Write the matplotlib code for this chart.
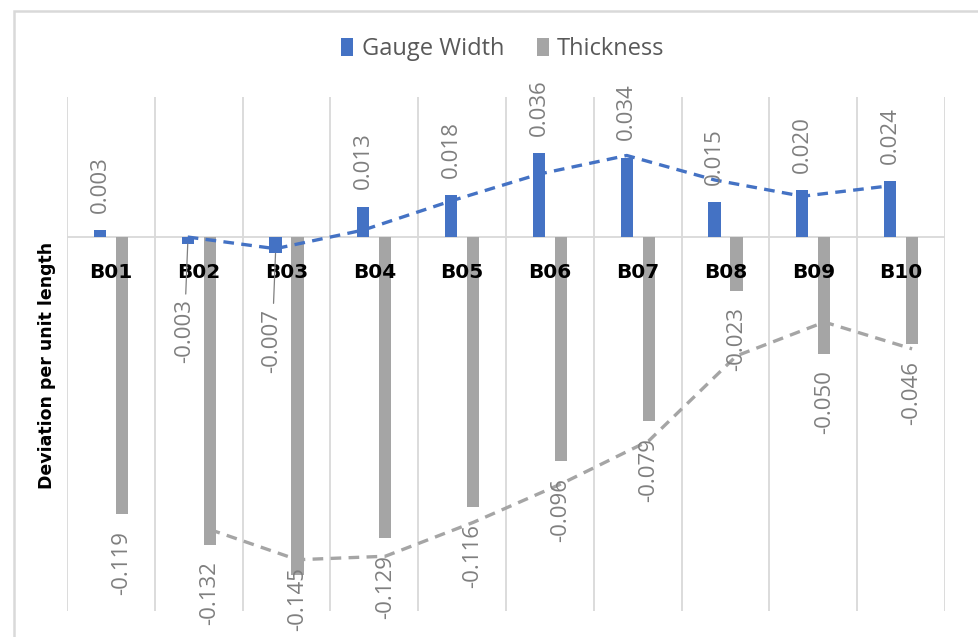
import numpy as np
import pandas as pd
import matplotlib
matplotlib.use("Agg")
from matplotlib import pyplot as plt
from matplotlib.patches import Rectangle

# data
specimens = ["B01", "B02", "B03", "B04", "B05", "B06", "B07", "B08", "B09", "B10"]
gauge_width = [0.003, -0.003, -0.007, 0.013, 0.018, 0.036, 0.034, 0.015, 0.020, 0.024]
thickness = [-0.119, -0.132, -0.145, -0.129, -0.116, -0.096, -0.079, -0.023, -0.050, -0.046]

blue = "#4472C4"
grey = "#A5A5A5"
label_col = "#7F7F7F"
grid_col = "#D9D9D9"

W, H = 979, 637
fig = plt.figure(figsize=(W / 100, H / 100), dpi=100)
ax = fig.add_axes([67 / W, 1 - 611 / H, (945 - 67) / W, (611 - 97) / H])
ax.set_axisbelow(False)

x = np.arange(len(specimens))
off = 0.125
bw = 0.14
ax.bar(x - off, gauge_width, bw, color=blue, label="Gauge Width", zorder=1)
ax.bar(x + off, thickness, bw, color=grey, label="Thickness", zorder=1)

# 2-period moving average trendlines (like Excel)
gw_ma = pd.Series(gauge_width).rolling(2).mean()
th_ma = pd.Series(thickness).rolling(2).mean()
ax.plot(x - off, gw_ma, color=blue, lw=2.4, ls=(0, (3.2, 2.2)), zorder=1.5)
ax.plot(x + off, th_ma, color=grey, lw=2.4, ls=(0, (3.2, 2.2)), zorder=1.5)

ax.set_xlim(-0.5, len(specimens) - 0.5)
ax.set_ylim(-0.1605, 0.0601)

# vertical gridlines between categories
for b in np.arange(-0.5, len(specimens)):
    ax.axvline(b, color=grid_col, lw=1.3, zorder=0)
ax.axhline(0, color=grid_col, lw=1.3, zorder=0.5)

for s in ax.spines.values():
    s.set_visible(False)
ax.spines["bottom"].set_position(("data", 0))
ax.set_yticks([])
ax.set_xticks(x)
ax.set_xticklabels(specimens, fontsize=14.5, fontweight="bold", color="black")
ax.tick_params(axis="x", length=0, pad=19)

lab_font = dict(family="Open Sans", fontsize=16, color=label_col, rotation=90, zorder=4)

# data labels, gauge width
for i, v in enumerate(gauge_width):
    if v >= 0:
        ax.annotate(f"{v:.3f}", (x[i] - off, v), xytext=(0, 12.5), textcoords="offset points",
                    ha="center", va="bottom", **lab_font)
    else:
        ax.annotate(f"{v:.3f}", (x[i] - off, v), xytext=(-2.5, -40), textcoords="offset points",
                    ha="center", va="top",
                    arrowprops=dict(arrowstyle="-", color=label_col, lw=0.9, shrinkA=2, shrinkB=0),
                    **lab_font)

# data labels, thickness (pushed back inside the chart when they would run off the bottom)
for i, v in enumerate(thickness):
    end_px = H - ax.transData.transform((0, v))[1]
    top_px = min(end_px + 17, H - 4 - 66)
    dy = -(top_px - end_px) * 72 / 100
    ax.annotate(f"{v:.3f}", (x[i] + off, v), xytext=(0, dy), textcoords="offset points",
                ha="center", va="top", **lab_font)

fig.text(47 / W, 1 - 365 / H, "Deviation per unit length", rotation=90,
         ha="center", va="center", fontsize=12.5, fontweight="bold", color="black")

fig.legend(loc="center", bbox_to_anchor=(503 / W, 1 - 49 / H), ncol=2, frameon=False,
           prop={"family": "Open Sans", "size": 17}, labelcolor="#595959",
           handlelength=0.5, handleheight=0.8, handletextpad=0.35, columnspacing=1.4)

# chart frame
fig.patches.append(Rectangle((14 / W, -0.05), 1.2, 1 - 11 / H + 0.05, transform=fig.transFigure,
                             fill=False, edgecolor=grid_col, lw=1.8, clip_on=False))

fig.savefig("out.png", dpi=100)
